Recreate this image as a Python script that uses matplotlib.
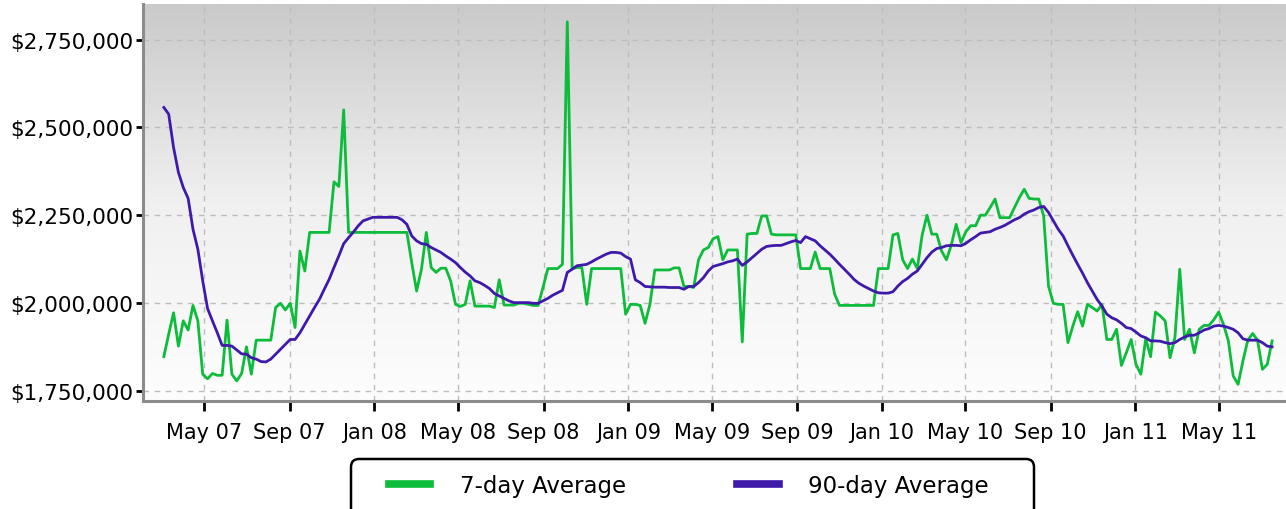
import numpy as np
import pandas as pd
import matplotlib
matplotlib.use("Agg")
import matplotlib.pyplot as plt
import matplotlib.dates as mdates
from matplotlib.ticker import FuncFormatter, FixedLocator
from matplotlib.colors import LinearSegmentedColormap
from matplotlib.patches import FancyBboxPatch
from matplotlib.lines import Line2D
from matplotlib.transforms import IdentityTransform

# ---- data (values in thousands of dollars, weekly points) ----
start_date = "2007-03-04"
n_points = 229

avg7_k = [
    1847, 1911, 1972, 1877, 1949, 1923, 1993, 1949, 1797, 1784,
    1799, 1794, 1794, 1951, 1797, 1778, 1799, 1875, 1797, 1894,
    1894, 1894, 1894, 1987, 1999, 1980, 1999, 1930, 2148, 2091,
    2201, 2201, 2201, 2201, 2201, 2345, 2332, 2550, 2201, 2201,
    2201, 2201, 2201, 2201, 2201, 2201, 2201, 2201, 2201, 2201,
    2201, 2115, 2034, 2096, 2201, 2101, 2087, 2099, 2099, 2063,
    1996, 1990, 1996, 2063, 1991, 1991, 1991, 1991, 1987, 2066,
    1994, 1994, 1994, 1999, 1999, 1996, 1993, 1993, 2044, 2098,
    2098, 2098, 2110, 2801, 2098, 2101, 2101, 1996, 2098, 2098,
    2098, 2098, 2098, 2098, 2098, 1968, 1996, 1996, 1993, 1942,
    1996, 2094, 2094, 2094, 2094, 2100, 2100, 2047, 2047, 2044,
    2123, 2151, 2158, 2183, 2189, 2123, 2151, 2151, 2151, 1889,
    2196, 2198, 2198, 2248, 2248, 2196, 2194, 2194, 2194, 2194,
    2194, 2098, 2098, 2098, 2145, 2098, 2098, 2098, 2025, 1993,
    1993, 1993, 1993, 1993, 1993, 1993, 1993, 2098, 2098, 2098,
    2194, 2198, 2123, 2098, 2125, 2098, 2193, 2250, 2196, 2196,
    2148, 2123, 2165, 2224, 2172, 2203, 2220, 2220, 2250, 2250,
    2272, 2296, 2243, 2243, 2243, 2272, 2300, 2324, 2298, 2296,
    2296, 2248, 2048, 1999, 1996, 1996, 1887, 1934, 1975, 1934,
    1996, 1987, 1977, 1996, 1896, 1896, 1925, 1822, 1858, 1896,
    1825, 1797, 1898, 1847, 1974, 1963, 1949, 1844, 1901, 2096,
    1896, 1925, 1858, 1925, 1936, 1936, 1952, 1974, 1939, 1892,
    1792, 1768, 1835, 1894, 1913, 1894, 1811, 1825, 1892,
]

avg90_k = [
    2557, 2538, 2443, 2372, 2329, 2298, 2210, 2153, 2063, 1984,
    1949, 1915, 1879, 1879, 1877, 1866, 1855, 1854, 1844, 1840,
    1833, 1832, 1840, 1854, 1868, 1882, 1896, 1896, 1915, 1939,
    1963, 1987, 2010, 2039, 2067, 2101, 2134, 2169, 2186, 2202,
    2220, 2234, 2239, 2244, 2244, 2244, 2244, 2244, 2244, 2237,
    2224, 2191, 2177, 2169, 2167, 2158, 2151, 2144, 2134, 2125,
    2115, 2101, 2088, 2077, 2063, 2058, 2050, 2041, 2027, 2020,
    2013, 2006, 2001, 2001, 2001, 2001, 1999, 1999, 2006, 2013,
    2022, 2029, 2036, 2087, 2096, 2106, 2108, 2110, 2117, 2125,
    2132, 2139, 2144, 2144, 2142, 2132, 2125, 2066, 2058, 2047,
    2046, 2045, 2045, 2045, 2044, 2044, 2044, 2039, 2047, 2047,
    2058, 2072, 2091, 2104, 2108, 2112, 2117, 2120, 2125, 2107,
    2117, 2129, 2141, 2153, 2161, 2163, 2164, 2164, 2169, 2174,
    2178, 2172, 2189, 2183, 2177, 2163, 2151, 2139, 2125, 2110,
    2096, 2082, 2067, 2056, 2048, 2041, 2034, 2029, 2028, 2028,
    2032, 2048, 2061, 2070, 2082, 2091, 2110, 2129, 2145, 2155,
    2158, 2163, 2164, 2164, 2163, 2170, 2180, 2189, 2199, 2201,
    2203, 2210, 2215, 2221, 2229, 2237, 2243, 2253, 2260, 2265,
    2272, 2275, 2258, 2234, 2210, 2191, 2163, 2136, 2110, 2085,
    2058, 2034, 2010, 1991, 1968, 1958, 1952, 1942, 1930, 1927,
    1917, 1906, 1901, 1892, 1892, 1891, 1887, 1884, 1887, 1896,
    1903, 1908, 1908, 1915, 1923, 1927, 1934, 1936, 1934, 1930,
    1925, 1915, 1898, 1894, 1894, 1894, 1887, 1877, 1875,
]

series_labels = ["7-day Average", "90-day Average"]
y_ticks = [1750000, 2000000, 2250000, 2500000, 2750000]

dates = pd.date_range(start_date, periods=n_points, freq="7D")
avg7 = np.array(avg7_k) * 1000.0
avg90 = np.array(avg90_k) * 1000.0

GREEN = "#0cbc3a"
PURPLE = "#3f1aaa"

plt.rcParams["font.family"] = ["DejaVu Sans"]

fig = plt.figure(figsize=(12.86, 5.10), dpi=100)
ax = fig.add_axes([143 / 1286, 108 / 510, 1143 / 1286, 397 / 510])

# gradient background
cmap = LinearSegmentedColormap.from_list("bg", ["#fdfdfd", "#f0f0f0", "#cacaca"])
ax.imshow(np.linspace(0, 1, 256).reshape(-1, 1), extent=[0, 1, 0, 1],
          transform=ax.transAxes, cmap=cmap, aspect="auto", origin="lower",
          zorder=0)

ax.plot(dates, avg7, color=GREEN, lw=2.0, zorder=3)
ax.plot(dates, avg90, color=PURPLE, lw=2.0, zorder=4)

ax.set_xlim(pd.Timestamp("2007-02-02"), pd.Timestamp("2011-08-06"))
ax.set_ylim(1720700, 2851700)

ax.yaxis.set_major_locator(FixedLocator(y_ticks))
ax.yaxis.set_major_formatter(FuncFormatter(lambda v, p: "${:,.0f}".format(v)))
ax.xaxis.set_major_locator(mdates.MonthLocator(bymonth=[1, 5, 9]))
ax.xaxis.set_major_formatter(mdates.DateFormatter("%b %y"))

ax.grid(True, color="#bdbdbd", linestyle=(0, (4, 4)), lw=1.0, zorder=1)
ax.set_axisbelow(True)

for s in ["top", "right"]:
    ax.spines[s].set_visible(False)
for s in ["left", "bottom"]:
    ax.spines[s].set_color("#8c8c8c")
    ax.spines[s].set_linewidth(2.2)

ax.tick_params(axis="y", direction="out", length=5, width=2, color="black",
               labelsize=15.5, pad=2)
ax.tick_params(axis="x", direction="out", length=7, width=2, color="black",
               labelsize=15, pad=8)

# legend frame
box = FancyBboxPatch((351, -25), 683, 75, boxstyle="round,pad=0,rounding_size=8",
                     transform=IdentityTransform(), facecolor="white",
                     edgecolor="black", lw=1.8, zorder=5)
fig.add_artist(box)

handles = [Line2D([], [], color=GREEN, lw=5.5),
           Line2D([], [], color=PURPLE, lw=5.5)]
leg = fig.legend(handles, series_labels, loc="center left",
                 bbox_to_anchor=(389 / 1286, 23 / 510), ncol=2, frameon=False,
                 fontsize=16.5, handlelength=1.8, handletextpad=1.3,
                 columnspacing=4.85, borderpad=0, borderaxespad=0)
leg.set_zorder(6)

fig.savefig("out.png", dpi=100)
